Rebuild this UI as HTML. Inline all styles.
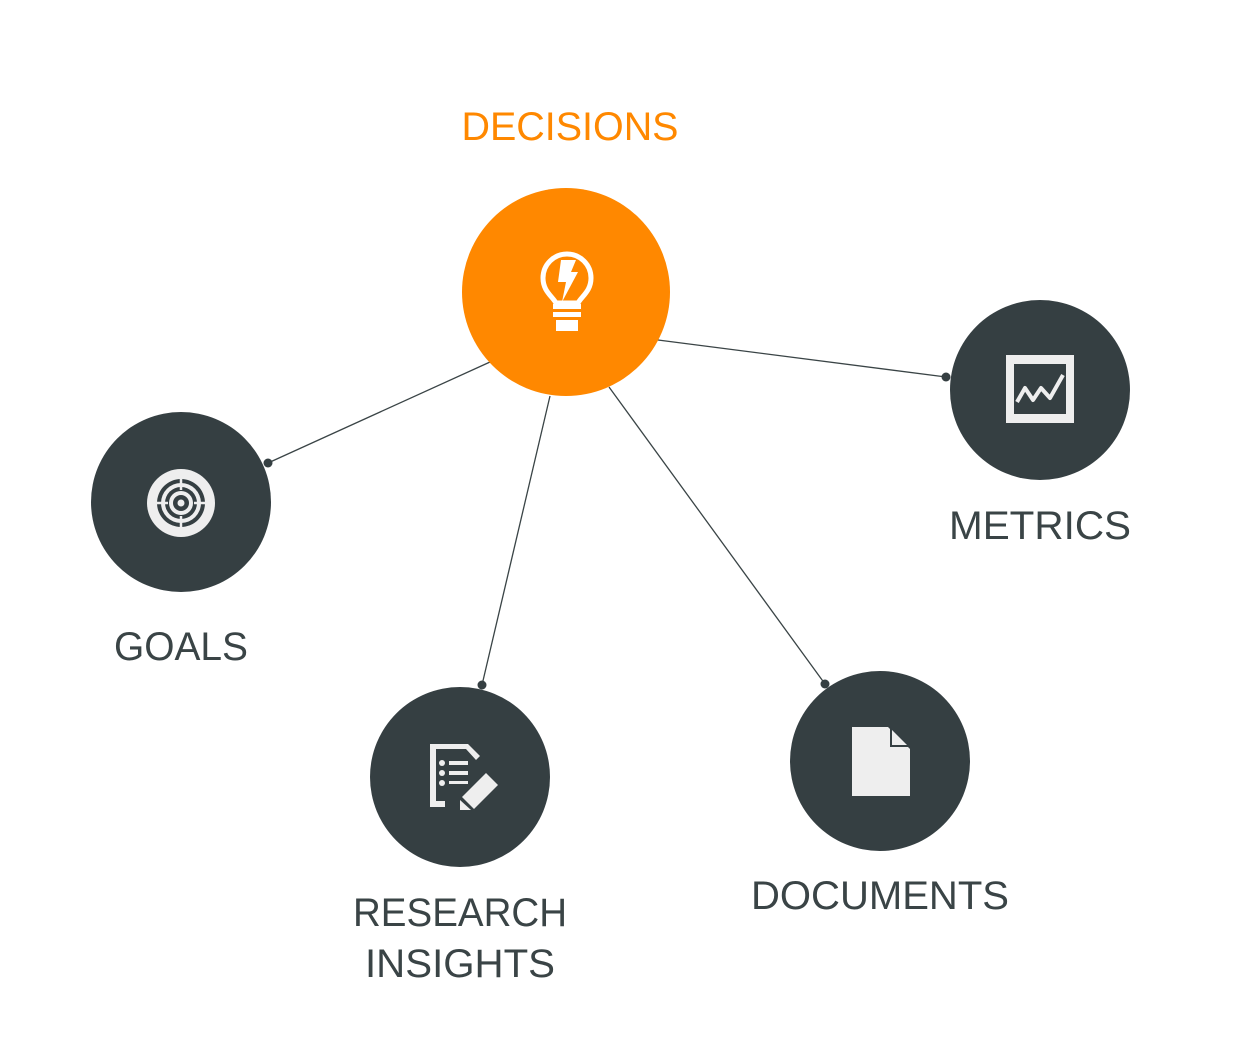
<!DOCTYPE html>
<html><head><meta charset="utf-8"><style>
body{margin:0;background:#fff}
svg{display:block}
text{font-family:"Liberation Sans",sans-serif;fill:#3a4446;font-size:40px}
</style></head><body>
<svg width="1258" height="1064" viewBox="0 0 1258 1064">
<g stroke="#3a4446" stroke-width="1.3">
<line x1="490" y1="362" x2="268" y2="463"/>
<line x1="550" y1="396" x2="482" y2="685"/>
<line x1="609" y1="387" x2="825" y2="684"/>
<line x1="658" y1="340" x2="946" y2="377"/>
</g>
<circle cx="566" cy="292" r="104" fill="#ff8800"/>
<g fill="#353f42">
<circle cx="181" cy="502" r="90"/>
<circle cx="460" cy="777" r="90"/>
<circle cx="880" cy="761" r="90"/>
<circle cx="1040" cy="390" r="90"/>
<circle cx="268" cy="463" r="4.5"/>
<circle cx="482" cy="685" r="4.5"/>
<circle cx="825" cy="684" r="4.5"/>
<circle cx="946" cy="377" r="4.5"/>
</g>
<!-- bulb -->
<g fill="none" stroke="#fff" stroke-width="5">
<path d="M556 303 C552 296 543 291 543 278 A24 24 0 0 1 591 278 C591 291 582 296 578 303 Z" stroke-linejoin="round"/>
</g>
<g fill="#fff">
<polygon points="561,260 576,260 571,272 578,272 562,302 566,282 558,282"/>
<rect x="553" y="304" width="28" height="5"/>
<rect x="553" y="312" width="28" height="5"/>
<rect x="556" y="320" width="22" height="11"/>
</g>
<!-- goals -->
<circle cx="181" cy="503" r="34" fill="#eee"/>
<circle cx="181" cy="503" r="24" fill="#353f42"/>
<circle cx="181" cy="503" r="20" fill="#eee"/>
<circle cx="181" cy="503" r="16" fill="#353f42"/>
<circle cx="181" cy="503" r="12" fill="#eee"/>
<circle cx="181" cy="503" r="8" fill="#353f42"/>
<circle cx="181" cy="503" r="3.5" fill="#eee"/>
<g stroke="#eee" stroke-width="2.5"><line x1="181" y1="477" x2="181" y2="490"/><line x1="181" y1="516" x2="181" y2="529"/><line x1="155" y1="503" x2="168" y2="503"/><line x1="194" y1="503" x2="207" y2="503"/></g>
<!-- metrics -->
<rect x="1006" y="355" width="68" height="68" fill="#eee"/>
<rect x="1014" y="364" width="52" height="50" fill="#353f42"/>
<polyline points="1017,402 1025,388 1033,400 1041,388 1050,398 1063,375" fill="none" stroke="#eee" stroke-width="4" stroke-linejoin="round"/>
<!-- documents -->
<polygon points="852,727 888,727 910,749 910,796 852,796" fill="#eee"/>
<polygon points="890,727 910,747 890,747" fill="#353f42"/>
<polygon points="892,730 907,745 892,745" fill="#eee"/>
<!-- research -->
<g fill="#eee">
<polygon points="430,744 468,744 480,756 476,760 466,749 436,749 436,801 445,801 445,807 430,807"/>
<circle cx="442" cy="763" r="3"/><circle cx="442" cy="773" r="3"/><circle cx="442" cy="783" r="3"/>
<rect x="449" y="761" width="19" height="4"/><rect x="449" y="771" width="19" height="4"/><rect x="449" y="781" width="19" height="3"/>
<polygon points="486,773 498,785 474,809 462,797"/>
<polygon points="460,800 471,810 460,810"/>
</g>
<text x="570" y="140" text-anchor="middle" textLength="217" lengthAdjust="spacingAndGlyphs" style="fill:#ff8800">DECISIONS</text>
<text x="181" y="660" text-anchor="middle" textLength="134" lengthAdjust="spacingAndGlyphs">GOALS</text>
<text x="1040" y="539" text-anchor="middle" textLength="182" lengthAdjust="spacingAndGlyphs">METRICS</text>
<text x="460" y="926" text-anchor="middle" textLength="214" lengthAdjust="spacingAndGlyphs">RESEARCH</text>
<text x="460" y="977" text-anchor="middle" textLength="190" lengthAdjust="spacingAndGlyphs">INSIGHTS</text>
<text x="880" y="909" text-anchor="middle" textLength="258" lengthAdjust="spacingAndGlyphs">DOCUMENTS</text>
</svg>
</body></html>
